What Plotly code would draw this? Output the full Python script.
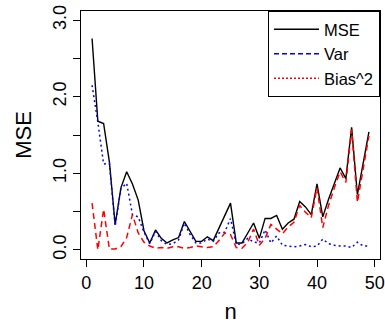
import plotly.graph_objects as go

n = list(range(1, 50))
mse = [2.76, 1.68, 1.65, 1.15, 0.33, 0.81, 1.02, 0.86, 0.65, 0.25,
       0.09, 0.26, 0.15, 0.09, 0.13, 0.16, 0.37, 0.23, 0.11, 0.11,
       0.17, 0.12, 0.28, 0.43, 0.61, 0.09, 0.09, 0.22, 0.35, 0.15,
       0.41, 0.41, 0.45, 0.27, 0.35, 0.40, 0.63, 0.56, 0.46, 0.86,
       0.43, 0.66, 0.87, 1.07, 0.93, 1.60, 0.72, 1.13, 1.54]
var = [2.15, 1.67, 1.12, 1.13, 0.31, 0.80, 0.87, 0.46, 0.43, 0.23,
       0.08, 0.24, 0.12, 0.07, 0.08, 0.13, 0.35, 0.20, 0.09, 0.09,
       0.14, 0.11, 0.22, 0.23, 0.41, 0.07, 0.08, 0.15, 0.10, 0.09,
       0.26, 0.09, 0.18, 0.06, 0.05, 0.04, 0.05, 0.07, 0.04, 0.05,
       0.14, 0.08, 0.06, 0.05, 0.05, 0.03, 0.10, 0.05, 0.05]
bias2 = [0.61, 0.00, 0.53, 0.01, 0.01, 0.04, 0.16, 0.46, 0.22, 0.10,
         0.05, 0.02, 0.03, 0.02, 0.04, 0.04, 0.02, 0.03, 0.05, 0.04,
         0.03, 0.04, 0.12, 0.22, 0.20, 0.03, 0.02, 0.10, 0.27, 0.06,
         0.15, 0.33, 0.27, 0.21, 0.30, 0.36, 0.58, 0.49, 0.42, 0.81,
         0.29, 0.58, 0.81, 1.02, 0.88, 1.57, 0.62, 1.08, 1.49]

x_ticks = [0, 10, 20, 30, 40, 50]
y_ticks = [0, 0.5, 1, 1.5, 2, 2.5, 3]
y_ticktext = ["0.0", "", "1.0", "", "2.0", "", "3.0"]
legend_names = ["MSE", "Var", "Bias^2"]

FONT = "Liberation Sans, Arial, sans-serif"

fig = go.Figure()
fig.add_trace(go.Scatter(x=n, y=mse, mode="lines", showlegend=False,
                         line=dict(color="black", width=1.4)))
fig.add_trace(go.Scatter(x=n, y=var, mode="lines", showlegend=False,
                         line=dict(color="#0000FF", width=1.5, dash="2px,3px")))
fig.add_trace(go.Scatter(x=n, y=bias2, mode="lines", showlegend=False,
                         line=dict(color="#FF0000", width=1.5, dash="6px,4px")))

# legend entries (as drawn in the reference legend)
fig.add_trace(go.Scatter(x=[None], y=[None], mode="lines", name=legend_names[0],
                         line=dict(color="black", width=1.4)))
fig.add_trace(go.Scatter(x=[None], y=[None], mode="lines", name=legend_names[1],
                         line=dict(color="#0000FF", width=1.5, dash="5px,3px")))
fig.add_trace(go.Scatter(x=[None], y=[None], mode="lines", name=legend_names[2],
                         line=dict(color="#FF0000", width=1.5, dash="2px,2px")))

fig.update_layout(
    width=385, height=324,
    margin=dict(l=81, r=5, t=11, b=65, autoexpand=False),
    paper_bgcolor="white", plot_bgcolor="white",
    font=dict(family=FONT, size=18, color="black"),
    showlegend=True,
    legend=dict(x=1, y=1, xanchor="right", yanchor="top",
                bordercolor="black", borderwidth=1, bgcolor="white",
                font=dict(size=16.5), tracegroupgap=0, itemwidth=45),
    xaxis=dict(range=[-0.92, 50.92], tickvals=x_ticks, ticks="outside",
               ticklen=7, tickcolor="black", showline=True, linecolor="black",
               mirror=True, showgrid=False, zeroline=False, automargin=False,
               title=dict(text="n", standoff=15)),
    yaxis=dict(range=[-0.12, 3.12], tickvals=y_ticks, ticktext=y_ticktext,
               tickangle=-90, ticks="outside", ticklen=7, tickcolor="black",
               showline=True, linecolor="black", mirror=True, showgrid=False,
               zeroline=False, automargin=False,
               title=dict(text="MSE", standoff=12)),
)

fig.write_html("out.html", config={"displayModeBar": False},
               post_script="document.body.style.margin='0';document.body.style.overflow='hidden';")
